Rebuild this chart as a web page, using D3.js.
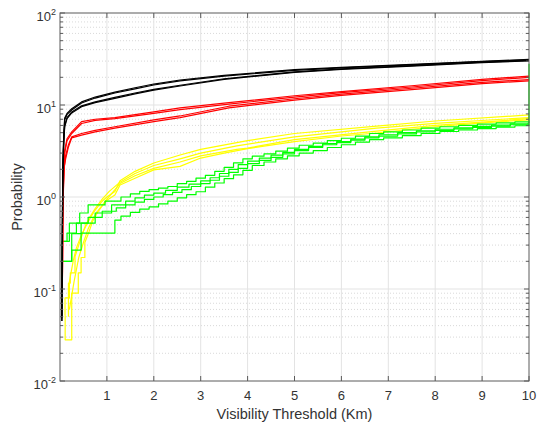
<!DOCTYPE html>
<html>
<head>
<meta charset="utf-8">
<script src="https://cdn.jsdelivr.net/npm/d3@7"></script>
<style>
  html, body { margin: 0; padding: 0; background: #fff; }
  svg { display: block; }
  text { font-family: "Liberation Sans", Arial, Helvetica, sans-serif; fill: #333; }
</style>
</head>
<body>
<svg id="chart" width="537" height="427"></svg>
<script>
// Exceedance probability curves, [visibility threshold (km), probability]
const black1 = [[0.04,0.045],[0.05,0.4],[0.06,2.0],[0.08,4.5],[0.1,6.9],[0.15,7.9],[0.25,8.8],[0.46,10.5],[0.75,11.9],[1.17,13.5],[1.6,15.0],[2,16.5],[2.56,18.3],[3.5,20.6],[5,23.8],[6,25.3],[7.5,27.3],[9,29.6],[10,31]];
const black2 = [[0.04,0.05],[0.05,0.45],[0.06,2.2],[0.08,4.8],[0.1,7.2],[0.15,8.1],[0.25,9.1],[0.46,10.8],[0.75,12.2],[1.17,13.8],[1.6,15.4],[2,16.9],[2.56,18.7],[3.5,21.0],[5,24.2],[6,25.6],[7.5,27.6],[9,29.9],[10,31.3]];
const black3 = [[0.04,0.045],[0.05,0.35],[0.06,1.7],[0.08,3.9],[0.1,5.8],[0.15,7.1],[0.25,8.2],[0.46,9.6],[0.75,10.6],[1.17,11.8],[1.6,13.2],[2,14.5],[2.56,16.1],[3.5,19.0],[5,22.6],[6,24.4],[7.5,26.5],[9,28.9],[10,30.2]];
const black4 = [[0.04,0.048],[0.05,0.38],[0.06,1.8],[0.08,4.1],[0.1,6.0],[0.15,7.3],[0.25,8.4],[0.46,9.8],[0.75,10.8],[1.17,12.1],[1.6,13.5],[2,14.8],[2.56,16.4],[3.5,19.3],[5,22.9],[6,24.7],[7.5,26.8],[9,29.2],[10,30.5]];

const red1 = [[0.05,0.1],[0.06,0.7],[0.08,1.7],[0.1,3.2],[0.15,4.3],[0.25,5.1],[0.46,6.6],[0.75,7.0],[1.17,7.3],[2,8.4],[2.56,9.3],[3.6,10.6],[5,12.6],[6,14.0],[7.5,16.2],[9,19.0],[10,20.6]];
const red2 = [[0.05,0.1],[0.06,0.65],[0.08,1.6],[0.1,3.0],[0.15,4.1],[0.25,4.9],[0.46,6.3],[0.75,6.8],[1.17,7.1],[2,8.1],[2.56,8.9],[3.6,10.2],[5,12.2],[6,13.6],[7.5,15.7],[9,18.4],[10,20.0]];
const red3 = [[0.05,0.1],[0.06,0.8],[0.08,2.0],[0.12,2.6],[0.18,3.5],[0.25,4.4],[0.46,4.7],[0.75,5.1],[1.17,5.6],[2,6.6],[2.56,7.3],[3.6,9.3],[5,11.3],[6,12.7],[7.5,14.7],[9,17.1],[10,18.3]];
const red4 = [[0.05,0.1],[0.06,0.75],[0.08,1.9],[0.12,2.8],[0.18,3.7],[0.25,4.5],[0.46,4.9],[0.75,5.3],[1.17,5.8],[2,6.9],[2.56,7.6],[3.6,9.7],[5,11.7],[6,13.1],[7.5,15.2],[9,17.6],[10,18.9]];

const yellow1 = [[0.11,0.052],[0.11,0.028],[0.25,0.028],[0.25,0.09],[0.39,0.09],[0.39,0.15],[0.45,0.15],[0.45,0.22],[0.53,0.22],[0.53,0.32],[0.62,0.42],[0.7,0.55],[0.8,0.68],[0.9,0.8],[1.0,0.92],[1.17,1.05],[1.28,1.35],[1.6,1.6],[2.0,1.97],[2.56,2.15],[3.0,2.65],[3.5,3.0],[4.0,3.35],[5.0,4.0],[6.0,4.6],[6.75,4.96],[8,5.8],[9,6.4],[10,6.9]];
const yellow2 = [[0.18,0.05],[0.18,0.116],[0.22,0.116],[0.22,0.15],[0.32,0.15],[0.32,0.225],[0.4,0.3],[0.48,0.4],[0.55,0.5],[0.65,0.62],[0.75,0.75],[0.9,0.95],[1.05,1.15],[1.28,1.45],[1.6,1.8],[2.0,2.2],[2.56,2.6],[3.0,3.0],[3.77,3.6],[5.0,4.5],[6.75,5.6],[8,6.3],[10,7.3]];
const yellow3 = [[0.107,0.052],[0.107,0.08],[0.2,0.08],[0.2,0.12],[0.28,0.2],[0.35,0.28],[0.45,0.38],[0.55,0.48],[0.65,0.6],[0.75,0.72],[0.9,0.9],[1.0,1.0],[1.17,1.15],[1.28,1.5],[1.6,1.9],[2.0,2.34],[2.56,2.86],[3.0,3.3],[3.77,3.9],[4.0,4.1],[5.0,4.9],[6.75,5.9],[8,6.7],[10,7.8]];
const yellow4 = [[0.2,0.06],[0.3,0.12],[0.4,0.22],[0.5,0.32],[0.6,0.45],[0.7,0.58],[0.8,0.7],[1.0,0.95],[1.28,1.4],[1.6,1.7],[2.0,2.05],[2.56,2.4],[3.0,2.8],[3.77,3.3],[4.0,3.4],[5.0,4.2],[6.75,5.2],[8,6.0],[10,7.1]];

// Green series are stair-stepped: each pair holds the level from that x onward
const green1 = [[0.04,0.07],[0.05,0.33],[0.2,0.52],[0.42,0.67],[0.6,0.82],[0.96,0.9],[1.3,1.0],[1.5,1.08],[1.7,1.15],[1.9,1.2],[2.1,1.25],[2.3,1.3],[2.5,1.4],[2.7,1.48],[2.9,1.6],[3.1,1.72],[3.3,1.9],[3.5,2.1],[3.7,2.35],[3.9,2.6],[4.1,2.78],[4.35,2.95],[4.6,3.15],[4.85,3.4],[5.1,3.65],[5.4,3.85],[5.7,4.1],[6.0,4.35],[6.3,4.6],[6.6,4.9],[6.9,5.1],[7.3,5.35],[7.7,5.6],[8.1,5.8],[8.5,6.0],[8.9,6.2],[9.3,6.4],[9.7,6.55],[10,6.6]];
const green2 = [[0.04,0.07],[0.05,0.2],[0.25,0.4],[0.45,0.52],[0.75,0.67],[1.1,0.82],[1.4,0.9],[1.6,0.98],[1.8,1.05],[2.0,1.1],[2.25,1.18],[2.5,1.28],[2.75,1.38],[3.0,1.5],[3.2,1.62],[3.4,1.8],[3.6,2.0],[3.8,2.25],[4.0,2.45],[4.25,2.65],[4.5,2.85],[4.75,3.05],[5.0,3.3],[5.3,3.55],[5.6,3.8],[5.9,4.0],[6.2,4.25],[6.5,4.5],[6.8,4.75],[7.2,5.0],[7.6,5.25],[8.0,5.45],[8.4,5.65],[8.8,5.85],[9.2,6.05],[9.6,6.25],[9.98,6.35],[10,28]];
const green3 = [[0.04,0.07],[0.05,0.2],[0.25,0.265],[0.45,0.405],[1.17,0.56],[1.3,0.62],[1.5,0.68],[1.7,0.74],[1.9,0.78],[2.1,0.84],[2.3,0.9],[2.5,0.98],[2.7,1.06],[2.9,1.14],[3.1,1.28],[3.3,1.42],[3.5,1.58],[3.7,1.74],[3.9,1.95],[4.1,2.2],[4.35,2.4],[4.6,2.6],[4.85,2.8],[5.1,3.0],[5.4,3.2],[5.7,3.45],[6.0,3.7],[6.3,3.95],[6.6,4.2],[6.9,4.4],[7.3,4.65],[7.7,4.9],[8.1,5.15],[8.5,5.35],[8.9,5.55],[9.3,5.75],[9.7,5.95],[10,6.05]];
const green4 = [[0.04,0.065],[0.05,0.33],[0.15,0.405],[0.35,0.52],[0.6,0.6],[0.9,0.7],[1.2,0.76],[1.4,0.82],[1.6,0.88],[1.8,0.94],[2.0,1.0],[2.2,1.06],[2.4,1.12],[2.6,1.2],[2.8,1.3],[3.0,1.4],[3.2,1.52],[3.4,1.68],[3.6,1.85],[3.8,2.05],[4.0,2.3],[4.25,2.5],[4.5,2.7],[4.75,2.95],[5.0,3.2],[5.3,3.45],[5.6,3.7],[5.9,3.9],[6.2,4.15],[6.5,4.4],[6.8,4.6],[7.2,4.85],[7.6,5.1],[8.0,5.3],[8.4,5.5],[8.8,5.7],[9.2,5.9],[9.6,6.1],[10,6.25]];

const xTicks = [1, 2, 3, 4, 5, 6, 7, 8, 9, 10];
const yDecades = [-2, -1, 0, 1, 2];
const xLabel = "Visibility Threshold (Km)";
const yLabel = "Probability";

const svg = d3.select("#chart");
const plotLeft = 60, plotRight = 529, plotTop = 13, plotBottom = 381;

const x = d3.scaleLinear().domain([0, 10]).range([plotLeft, plotRight]);
const y = d3.scaleLog().domain([0.01, 100]).range([plotBottom, plotTop]);

const axisColor = "#5a5a5a";
const g = svg.append("g");

// minor y grid (dotted) at 2..9 within each decade
const minorY = [];
for (let d = -2; d < 2; d++) for (let m = 2; m <= 9; m++) minorY.push(m * Math.pow(10, d));
g.append("g").selectAll("line").data(minorY).join("line")
  .attr("x1", plotLeft).attr("x2", plotRight)
  .attr("y1", d => y(d)).attr("y2", d => y(d))
  .attr("stroke", "#c8c8c8").attr("stroke-width", 0.7)
  .attr("stroke-dasharray", "1,2");

// major grid
g.append("g").selectAll("line").data(yDecades.slice(1, -1)).join("line")
  .attr("x1", plotLeft).attr("x2", plotRight)
  .attr("y1", d => y(Math.pow(10, d))).attr("y2", d => y(Math.pow(10, d)))
  .attr("stroke", "#e3e3e3").attr("stroke-width", 1);
g.append("g").selectAll("line").data(xTicks.slice(0, -1)).join("line")
  .attr("x1", d => x(d)).attr("x2", d => x(d))
  .attr("y1", plotTop).attr("y2", plotBottom)
  .attr("stroke", "#e3e3e3").attr("stroke-width", 1);

// data lines
const line = d3.line().x(d => x(d[0])).y(d => y(d[1]));
const stepLine = d3.line().x(d => x(d[0])).y(d => y(d[1])).curve(d3.curveStepAfter);

const series = [
  { data: [yellow1, yellow2, yellow3, yellow4], color: "#ffff00", gen: line },
  { data: [green1, green2, green3, green4], color: "#00ff00", gen: stepLine },
  { data: [red1, red2, red3, red4], color: "#ff0000", gen: line },
  { data: [black1, black2, black3, black4], color: "#000000", gen: line }
];
const plot = g.append("g");
series.forEach(s => {
  plot.append("g").selectAll("path").data(s.data).join("path")
    .attr("d", d => s.gen(d))
    .attr("fill", "none")
    .attr("stroke", s.color)
    .attr("stroke-width", 1.2)
    .attr("stroke-linejoin", "round");
});

// axes box
g.append("rect")
  .attr("x", plotLeft).attr("y", plotTop)
  .attr("width", plotRight - plotLeft).attr("height", plotBottom - plotTop)
  .attr("fill", "none").attr("stroke", axisColor).attr("stroke-width", 1);

// x ticks (inward, bottom and top)
const xt = g.append("g").attr("stroke", axisColor);
xTicks.forEach(t => {
  xt.append("line").attr("x1", x(t)).attr("x2", x(t)).attr("y1", plotBottom).attr("y2", plotBottom - 5);
  xt.append("line").attr("x1", x(t)).attr("x2", x(t)).attr("y1", plotTop).attr("y2", plotTop + 5);
});
// y ticks (inward, left and right)
const yt = g.append("g").attr("stroke", axisColor);
yDecades.forEach(d => {
  const v = y(Math.pow(10, d));
  yt.append("line").attr("x1", plotLeft).attr("x2", plotLeft + 5).attr("y1", v).attr("y2", v);
  yt.append("line").attr("x1", plotRight).attr("x2", plotRight - 5).attr("y1", v).attr("y2", v);
});
minorY.forEach(m => {
  const v = y(m);
  yt.append("line").attr("x1", plotLeft).attr("x2", plotLeft + 3).attr("y1", v).attr("y2", v);
  yt.append("line").attr("x1", plotRight).attr("x2", plotRight - 3).attr("y1", v).attr("y2", v);
});

// x tick labels
g.append("g").selectAll("text").data(xTicks).join("text")
  .attr("x", d => x(d)).attr("y", plotBottom + 19)
  .attr("text-anchor", "middle")
  .attr("font-size", 13)
  .text(d => d);

// y tick labels as powers of ten
const yl = g.append("g").selectAll("text").data(yDecades).join("text")
  .attr("x", 56).attr("y", d => y(Math.pow(10, d)) + 8)
  .attr("text-anchor", "end")
  .attr("font-size", 13);
yl.append("tspan").text("10");
yl.append("tspan").attr("dy", -6.5).attr("font-size", 9).text(d => String(d));

// axis titles
svg.append("text")
  .attr("x", (plotLeft + plotRight) / 2).attr("y", 419)
  .attr("text-anchor", "middle").attr("font-size", 14.5)
  .text(xLabel);
svg.append("text")
  .attr("transform", `translate(22, ${(plotTop + plotBottom) / 2}) rotate(-90)`)
  .attr("text-anchor", "middle").attr("font-size", 14.5)
  .text(yLabel);
</script>
</body>
</html>
